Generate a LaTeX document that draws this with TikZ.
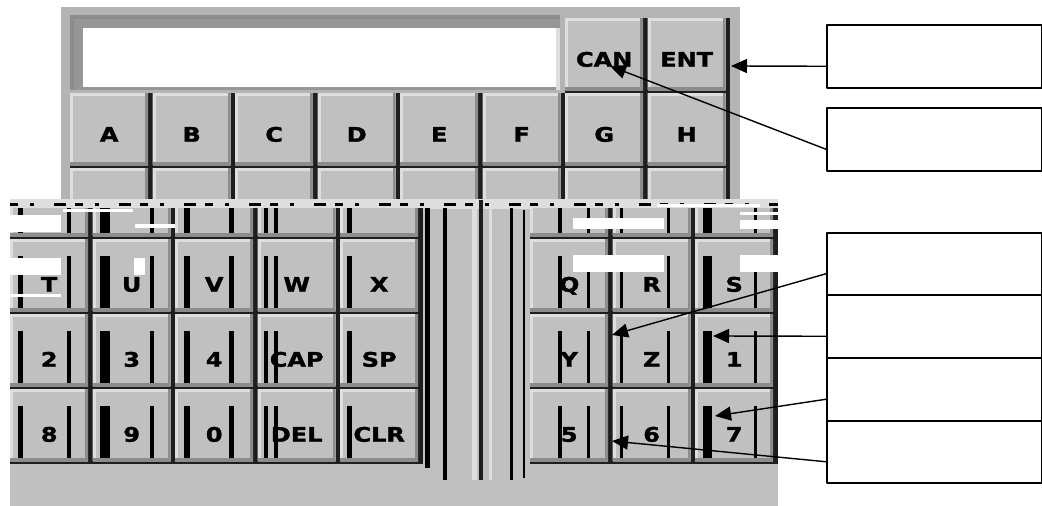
\documentclass[tikz,border=0pt]{standalone}
\usepackage{fontspec}
\newfontfamily\keyfont{DejaVu Sans}[FakeStretch=1.2, FakeBold=1.6]
\usetikzlibrary{math, calc, arrows.meta, positioning}

\definecolor{panelgray}{RGB}{180,180,180}
\definecolor{keygray}{RGB}{192,192,192}
\definecolor{keylight}{RGB}{222,222,222}
\definecolor{keydark}{RGB}{140,140,140}
\definecolor{sepblack}{RGB}{30,30,30}
\definecolor{lcdframe}{RGB}{150,150,150}

\begin{document}
\begin{tikzpicture}[
	% unidades: 1 px de la captura, eje y hacia abajo
	x = 1pt, y = -1pt,
	line join = round,
	% 	a. tecla con relieve
	keycap/.style = {
		rectangle, anchor = north west,
		fill = keygray, inner sep = 0pt,
		minimum width = 78pt, minimum height = 72pt,
		font = \keyfont\bfseries\fontsize{20}{20}\selectfont,
		text height = 25pt, text depth = 0pt,
		path picture = {
			\draw[keylight, line width = 6pt]
				(path picture bounding box.south west)
				|- (path picture bounding box.north east);
			\draw[keydark, line width = 6pt]
				(path picture bounding box.south west)
				-| (path picture bounding box.north east);
		}
	},
	%	b. tecla del bloque inferior (texto mas bajo)
	lowkey/.style = {keycap, text height = 33pt},
	%	c. ranura negra entre teclas
	keyslot/.style = {fill = sepblack},
	%	d. restos de la captura
	glitch/.style = {fill = black},
	hole/.style = {fill = white},
	%	e. recuadros y flechas
	notebox/.style = {
		rectangle, anchor = north west, draw, line width = 1.5pt,
		minimum width = 215pt, minimum height = 63pt
	},
	calloutarrow/.style = {
		line width = 1.4pt,
		arrows = -{Triangle[length = 16pt, width = 14pt]}
	},
]

	% margenes del dibujo
	\useasboundingbox (0,0) rectangle (1042,506);

	% definicion de las variables
	\tikzmath{
		\paso = 82.5; % paso horizontal de las teclas
		\fila = 75;   % paso vertical de las teclas
	}

	% fondos del teclado
	\fill[panelgray] (61,7) rectangle (740,200);
	\fill[keygray] (10,200) rectangle (778,506);

	% pantalla
	\fill[lcdframe] (70,15) rectangle (560,90);
	\fill[keydark] (70,15) rectangle (560,19);
	\fill[keydark] (70,15) rectangle (74,90);
	\fill[keylight] (556,28) rectangle (560,90);
	\node[rectangle, anchor = north west, fill = white, inner sep = 0pt,
		minimum width = 473pt, minimum height = 59pt] (lcd) at (83,28) {};

	% teclas CAN y ENT
	\foreach \lbl [count = \i from 0] in {CAN, ENT} {
		\fill[keyslot] (565+\paso*\i, 18) rectangle ++(\paso, \fila);
		\node[keycap] (k\lbl) at (565+\paso*\i, 18) {\lbl};
	}

	% fila A-H
	\foreach \lbl [count = \i from 0] in {A,B,C,D,E,F,G,H} {
		\fill[keyslot] (70+\paso*\i, 93) rectangle ++(\paso, \fila);
		\node[keycap] (k\lbl) at (70+\paso*\i, 93) {\lbl};
	}

	% fila I-P (cortada)
	\begin{scope}
		\clip (61,93) rectangle (740,200);
		\foreach \lbl [count = \i from 0] in {I,J,K,L,M,N,O,P} {
			\fill[keyslot] (70+\paso*\i, 168) rectangle ++(\paso, \fila);
			\node[keycap] (k\lbl) at (70+\paso*\i, 168) {};
		}
	\end{scope}

	% franja defectuosa
	\fill[keylight] (10,199) rectangle (778,209);
	\draw[line width = 3pt,
		dash pattern = on 8pt off 12pt on 4pt off 20pt on 12pt off 9pt]
		(10,204) -- (778,204);

	% bloque inferior izquierdo
	\begin{scope}
		\clip (10,208) rectangle (424,506);
		\foreach \c in {0,...,4} {
			\fill[keyslot] (10+\paso*\c, 164) rectangle ++(\paso, \fila);
			\node[lowkey] (lo0\c) at (10+\paso*\c, 164) {};
		}
		\foreach \top/\row [count = \r] in
			{239/{T,U,V,W,X}, 314/{2,3,4,CAP,SP}, 389/{8,9,0,DEL,CLR}} {
			\foreach \lbl [count = \c from 0] in \row {
				\fill[keyslot] (10+\paso*\c, \top) rectangle ++(\paso, \fila);
				\node[lowkey] (lo\r\c) at (10+\paso*\c, \top) {\lbl};
			}
		}
		\foreach \top in {164, 239, 314, 389} {
			\foreach \bx/\bw in {18/5, 67/4, 100/10, 150/4, 184/6,
				229/5, 264/4, 274/4, 347/5} {
				\fill[glitch] (\bx, \top+17) rectangle ++(\bw, 52);
			}
		}
	\end{scope}

	% bloque inferior derecho
	\begin{scope}
		\clip (526,208) rectangle (778,506);
		\foreach \c in {0,...,2} {
			\fill[keyslot] (530+\paso*\c, 164) rectangle ++(\paso, \fila);
			\node[lowkey] (ri0\c) at (530+\paso*\c, 164) {};
		}
		\foreach \top/\row [count = \r] in
			{239/{Q,R,S}, 314/{Y,Z,1}, 389/{5,6,7}} {
			\foreach \lbl [count = \c from 0] in \row {
				\fill[keyslot] (530+\paso*\c, \top) rectangle ++(\paso, \fila);
				\node[lowkey] (ri\r\c) at (530+\paso*\c, \top) {\lbl};
			}
		}
		\foreach \top in {164, 239, 314, 389} {
			\foreach \bx/\bw in {558/4, 587/3, 620/3, 667/3, 703/9, 754/3} {
				\fill[glitch] (\bx, \top+17) rectangle ++(\bw, 52);
			}
		}
	\end{scope}

	% lineas del centro
	\fill[glitch] (425,208) rectangle (430,468);
	\fill[glitch] (443,208) rectangle (447,480);
	\fill[keylight] (472,208) rectangle (477,480);
	\fill[sepblack] (479,200) rectangle (483,480);
	\fill[keylight] (489,208) rectangle (492,480);
	\fill[glitch] (510,208) rectangle (513,480);
	\fill[glitch] (523,210) rectangle (525,478);

	% huecos blancos
	\foreach \ax/\ay/\bx/\by in {10/215/61/232, 10/258/61/275, 10/294/61/297,
		63/209/133/212, 135/224/175/228, 134/258/145/275,
		573/218/664/229, 740/212/778/215, 740/220/778/229,
		657/204/760/207, 573/255/664/272, 740/255/778/272} {
		\fill[hole] (\ax,\ay) rectangle (\bx,\by);
	}

	% recuadros de texto
	\node[notebox] (note1) at (826,24) {};
	\node[notebox] (note2) at (826,107) {};
	\node[notebox, minimum height = 62pt] (note3) at (826,232) {};
	\node[notebox] (note4) at (826,294) {};
	\node[notebox] (note5) at (826,357) {};
	\node[notebox, minimum height = 62pt] (note6) at (826,420) {};

	% puntas de las flechas
	\coordinate (tipENT) at (731,66);
	\coordinate (tipCAN) at (610,66);
	\coordinate (tipY) at (612,335);
	\coordinate (tipOne) at (713,336);
	\coordinate (tipSeven) at (715,416);
	\coordinate (tipFive) at (612,441);

	% flechas
	\foreach \n/\tip in {1/tipENT, 2/tipCAN, 3/tipY,
		4/tipOne, 5/tipSeven, 6/tipFive} {
		\draw[calloutarrow] ($(note\n.west)+(0,10)$) -- (\tip);
	}

\end{tikzpicture}
\end{document}
